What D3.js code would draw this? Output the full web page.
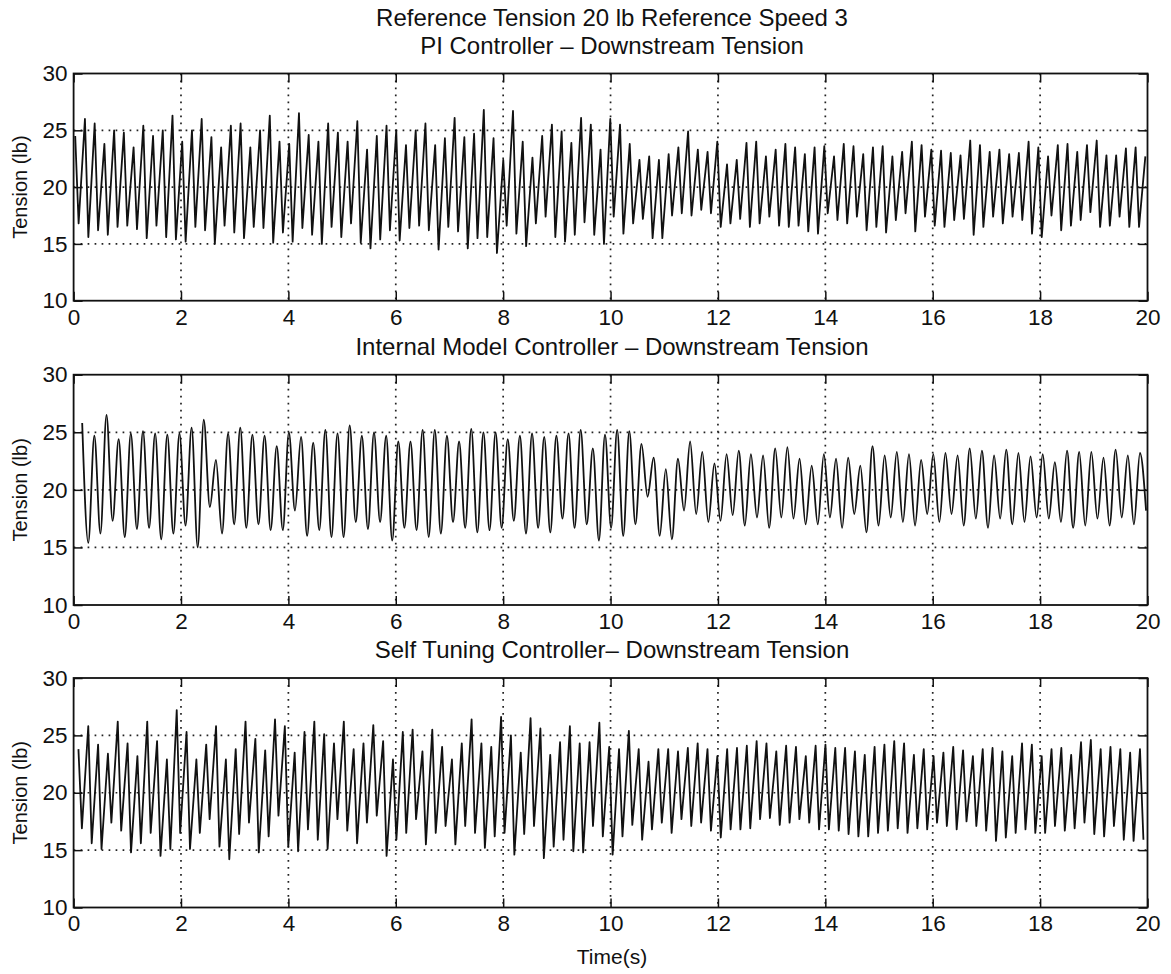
<!DOCTYPE html>
<html>
<head>
<meta charset="utf-8">
<script src="https://cdn.jsdelivr.net/npm/d3@7"></script>
<style>
  body { margin: 0; background: #fff; }
  text { font-family: "Liberation Sans", Arial, Helvetica, sans-serif; fill: #111; }
</style>
</head>
<body>
<div id="chart"></div>
<script>
// tension, one value per oscillation (peak then following trough)
var piPeaks = [24.5, 26.0, 25.6, 23.8, 25.0, 24.8, 23.5, 25.4, 24.5, 25.0, 26.3, 24.0, 25.0, 26.0, 24.4, 23.5, 25.4, 25.6, 23.5, 25.0, 26.3, 24.0, 23.8, 26.5, 24.6, 24.0, 25.6, 24.8, 24.0, 25.8, 23.3, 24.5, 25.4, 25.0, 23.7, 25.0,
  25.6, 23.7, 24.3, 26.1, 24.4, 24.7, 26.8, 24.3, 22.4, 26.7, 24.0, 22.6, 24.5, 25.5, 24.9, 23.9, 26.1, 25.5, 23.3, 26.0, 25.5, 23.8, 22.4, 22.7, 22.4, 22.9, 23.5, 24.9, 23.3, 23.1, 24.0, 22.0, 22.4, 23.9, 24.0, 22.7, 23.3, 23.8, 23.5,
  22.9, 23.5, 23.6, 22.7, 23.8, 23.6, 22.9, 23.5, 23.6, 22.7, 23.1, 24.0, 23.7, 23.3, 23.2, 23.0, 22.8, 24.1, 23.7, 23.1, 23.3, 22.9, 23.0, 24.0, 23.5, 22.7, 23.7, 23.8, 23.1, 23.7, 24.1, 22.8, 22.8, 23.4, 23.5, 22.7];
var piTroughs = [16.8, 15.6, 16.2, 15.8, 16.5, 16.6, 16.3, 15.5, 16.6, 15.6, 15.4, 15.2, 16.5, 16.2, 15.0, 16.6, 16.0, 15.5, 16.5, 16.4, 15.1, 16.0, 15.2, 16.4, 15.8, 15.0, 16.5, 15.6, 16.8, 15.1, 14.6, 15.4, 16.2, 15.3, 16.4, 16.6,
  16.2, 14.5, 16.5, 16.1, 14.6, 15.5, 15.6, 14.2, 16.6, 15.9, 14.8, 16.8, 17.4, 15.6, 15.2, 15.8, 16.9, 15.8, 15.0, 17.4, 15.9, 16.8, 17.2, 15.5, 15.5, 17.5, 17.7, 17.5, 18.0, 17.7, 16.5, 16.8, 17.2, 16.5, 16.8, 17.4, 16.6, 16.5,
  16.6, 16.1, 15.9, 17.7, 17.1, 16.8, 17.4, 16.2, 16.5, 16.0, 17.1, 17.7, 16.1, 17.4, 16.6, 16.5, 17.1, 17.2, 15.8, 16.5, 17.4, 16.8, 17.4, 17.1, 15.9, 15.6, 17.5, 16.2, 16.6, 17.1, 17.8, 16.5, 16.6, 17.4, 16.5, 16.5, 17.4];
var piSpan = [0.03, 19.96];   // time of first and last peak

var imcPeaks = [25.8, 24.7, 26.5, 24.4, 24.9, 25.1, 24.9, 24.8, 24.9, 25.4, 26.1, 22.6, 24.9, 25.4, 24.8, 24.7, 23.8, 25.0, 24.6, 24.1, 25.2, 24.9, 25.6, 24.7, 25.0, 24.7, 24.2, 24.2, 25.2, 25.2,
  24.7, 24.2, 25.3, 25.0, 25.0, 24.4, 24.7, 24.9, 24.6, 24.7, 24.9, 25.2, 23.6, 24.8, 25.2, 25.1, 24.0, 22.8, 21.8, 22.7, 24.2, 23.3, 22.3, 23.1, 23.4, 23.1, 23.0, 23.6, 23.7, 22.7,
  22.1, 23.1, 22.7, 22.8, 22.1, 23.8, 23.0, 23.3, 23.1, 22.6, 23.1, 23.2, 23.0, 23.6, 23.4, 23.0, 23.5, 23.2, 22.9, 23.1, 22.4, 23.4, 23.3, 23.3, 22.8, 23.5, 23.0, 23.2];
var imcTroughs = [15.4, 16.2, 17.3, 15.9, 16.6, 16.7, 15.7, 16.2, 16.9, 15.0, 18.5, 16.2, 17.0, 16.7, 17.0, 16.5, 16.5, 18.2, 16.0, 16.5, 15.9, 15.9, 17.2, 16.6, 17.2, 15.6, 16.7, 16.5, 15.9, 16.2,
  17.2, 16.7, 16.3, 16.5, 16.7, 17.3, 16.2, 16.7, 16.3, 17.5, 16.7, 17.0, 15.6, 16.7, 16.0, 17.0, 19.4, 16.0, 15.7, 18.2, 17.9, 17.2, 17.3, 17.8, 16.9, 17.6, 16.7, 17.6, 17.5, 17.0,
  17.0, 17.6, 16.7, 17.9, 16.3, 16.9, 17.6, 17.2, 16.9, 17.9, 17.2, 17.9, 16.9, 17.5, 16.7, 17.5, 17.0, 17.2, 17.6, 17.5, 17.2, 16.7, 16.9, 17.5, 16.9, 17.6, 17.0, 18.2];
var imcSpan = [0.16, 19.86];

var stcPeaks = [23.8, 25.8, 24.2, 23.4, 26.2, 24.3, 23.2, 26.2, 24.5, 22.9, 27.2, 25.3, 22.9, 24.2, 25.8, 22.9, 23.8, 26.2, 24.7, 23.7, 26.4, 25.8, 23.5, 25.3, 26.2, 25.1, 24.3, 26.2, 23.8, 24.3, 25.9, 24.5, 22.9, 25.3, 25.5, 23.6, 25.5, 24.0,
  22.9, 24.3, 26.4, 24.3, 24.0, 26.6, 25.0, 23.5, 26.5, 25.6, 23.3, 24.4, 25.8, 24.3, 24.4, 26.1, 24.0, 23.8, 25.4, 23.8, 22.7, 23.8, 23.8, 23.6, 23.9, 24.3, 23.8, 23.2, 23.8, 23.9, 24.1, 24.5, 24.3, 23.6, 24.1, 24.0,
  23.2, 24.1, 24.2, 23.9, 23.9, 23.6, 23.3, 24.0, 24.2, 24.5, 24.3, 23.3, 23.8, 23.2, 23.5, 24.0, 23.7, 23.2, 23.8, 23.9, 23.6, 23.2, 24.3, 24.2, 23.2, 23.8, 23.9, 23.3, 24.4, 24.6, 23.8, 24.0, 23.8, 23.5, 23.8];
var stcTroughs = [16.9, 15.6, 15.1, 17.4, 16.7, 14.8, 15.6, 16.5, 14.5, 15.1, 16.5, 15.1, 16.5, 17.7, 15.3, 14.2, 16.4, 17.4, 14.8, 16.2, 18.0, 15.3, 14.9, 16.8, 15.9, 15.1, 17.7, 16.7, 15.6, 17.4, 18.0, 14.5, 15.9, 16.5, 17.7, 15.5, 16.5, 17.1,
  15.5, 17.1, 16.5, 15.2, 16.2, 16.5, 14.6, 16.4, 17.1, 14.3, 15.3, 15.9, 14.9, 14.8, 17.1, 16.2, 14.6, 16.2, 17.2, 15.9, 16.8, 17.4, 16.5, 17.7, 17.1, 17.4, 16.7, 16.1, 16.8, 16.8, 16.9, 17.7, 17.8, 17.2, 17.4, 17.7,
  17.4, 16.8, 16.8, 16.7, 16.4, 16.2, 16.2, 16.5, 16.7, 16.9, 16.5, 16.9, 16.8, 17.4, 17.1, 16.8, 17.5, 17.1, 16.7, 15.8, 16.1, 16.5, 16.8, 16.5, 16.5, 17.1, 16.7, 16.9, 17.4, 16.4, 16.2, 17.1, 15.9, 15.8, 15.9];
var stcSpan = [0.09, 19.86];

var xTicks = [0, 2, 4, 6, 8, 10, 12, 14, 16, 18, 20];
var yTicks = [10, 15, 20, 25, 30];
var xGrid = [2, 4, 6, 8, 10, 12, 14, 16, 18];
var yGrid = [15, 20, 25];

var mainTitle = "Reference Tension 20 lb Reference Speed 3";
var panelTitles = ["PI Controller \u2013 Downstream Tension",
                   "Internal Model Controller \u2013 Downstream Tension",
                   "Self Tuning Controller\u2013 Downstream Tension"];

var width = 1171, height = 974;
var left = 73.6, right = 1147.5;
var panels = [
  { top: 73.5, bottom: 300.7, peaks: piPeaks, troughs: piTroughs, span: piSpan, lag: 0.35, smooth: false },
  { top: 374.7, bottom: 605.0, peaks: imcPeaks, troughs: imcTroughs, span: imcSpan, lag: 0.5, smooth: true },
  { top: 678.0, bottom: 907.5, peaks: stcPeaks, troughs: stcTroughs, span: stcSpan, lag: 0.35, smooth: false }
];

var svg = d3.select('#chart').append('svg')
  .attr('width', width).attr('height', height)
  .style('background', '#fff');

var xScale = d3.scaleLinear().domain([0, 20]).range([left, right]);

svg.append('text').attr('x', 612).attr('y', 26).attr('text-anchor', 'middle')
  .style('font-size', '24px').text(mainTitle);

panels.forEach(function(p, k) {
  var yScale = d3.scaleLinear().domain([10, 30]).range([p.bottom, p.top]);
  var g = svg.append('g');

  // panel title
  svg.append('text').attr('x', 612).attr('y', p.top - 20).attr('text-anchor', 'middle')
    .style('font-size', '24px').text(panelTitles[k]);

  // y label
  svg.append('text')
    .attr('transform', 'translate(27,' + ((p.top + p.bottom) / 2) + ') rotate(-90)')
    .attr('text-anchor', 'middle')
    .style('font-size', '20px')
    .text('Tension (lb)');

  // dotted grid
  g.selectAll('.gx').data(xGrid).enter().append('line')
    .attr('x1', function(d) { return xScale(d); }).attr('x2', function(d) { return xScale(d); })
    .attr('y1', p.top).attr('y2', p.bottom)
    .attr('stroke', '#222').attr('stroke-width', 1.7).attr('stroke-dasharray', '1.7,5.3');
  g.selectAll('.gy').data(yGrid).enter().append('line')
    .attr('x1', left).attr('x2', right)
    .attr('y1', function(d) { return yScale(d); }).attr('y2', function(d) { return yScale(d); })
    .attr('stroke', '#222').attr('stroke-width', 1.7).attr('stroke-dasharray', '1.7,5.3');

  // signal: peak, then trough, for every oscillation
  var n = Math.min(p.peaks.length, p.troughs.length);
  var step = (p.span[1] - p.span[0]) / (n - 1);
  var pts = [];
  for (var i = 0; i < n; i++) {
    var t = p.span[0] + i * step;
    pts.push([t, p.peaks[i]]);
    if (t + p.lag * step <= 20) pts.push([t + p.lag * step, p.troughs[i]]);
  }

  var clipId = 'clip' + k;
  svg.append('clipPath').attr('id', clipId).append('rect')
    .attr('x', left).attr('y', p.top).attr('width', right - left).attr('height', p.bottom - p.top);

  var line = d3.line()
    .x(function(d) { return xScale(d[0]); })
    .y(function(d) { return yScale(d[1]); })
    .curve(p.smooth ? d3.curveMonotoneX : d3.curveLinear);

  g.append('path')
    .attr('clip-path', 'url(#' + clipId + ')')
    .attr('d', line(pts))
    .attr('fill', 'none')
    .attr('stroke', '#111')
    .attr('stroke-width', 1.8)
    .attr('stroke-linejoin', 'round');

  // axes, ticks inside
  var xb = d3.axisBottom(xScale).tickValues(xTicks).tickSizeInner(-9).tickSizeOuter(0).tickPadding(8)
    .tickFormat(d3.format('d'));
  var xt = d3.axisTop(xScale).tickValues(xTicks).tickSizeInner(-9).tickSizeOuter(0).tickFormat('');
  var yl = d3.axisLeft(yScale).tickValues(yTicks).tickSizeInner(-9).tickSizeOuter(0).tickPadding(6);
  var yr = d3.axisRight(yScale).tickValues(yTicks).tickSizeInner(-9).tickSizeOuter(0).tickFormat('');

  [[xb, 'translate(0,' + p.bottom + ')'], [xt, 'translate(0,' + p.top + ')'],
   [yl, 'translate(' + left + ',0)'], [yr, 'translate(' + right + ',0)']].forEach(function(a) {
    var ax = g.append('g').attr('transform', a[1]).call(a[0]);
    ax.select('.domain').remove();
    ax.selectAll('line').attr('stroke', '#111').attr('stroke-width', 1.5);
    ax.selectAll('text').style('font-size', '22.5px').attr('fill', '#111')
      .style('font-family', '"Liberation Sans", Arial, Helvetica, sans-serif');
  });

  g.append('rect')
    .attr('x', left).attr('y', p.top).attr('width', right - left).attr('height', p.bottom - p.top)
    .attr('fill', 'none').attr('stroke', '#111').attr('stroke-width', 1.8);
});

svg.append('text').attr('x', 612).attr('y', 964).attr('text-anchor', 'middle')
  .style('font-size', '21px').text('Time(s)');
</script>
</body>
</html>
